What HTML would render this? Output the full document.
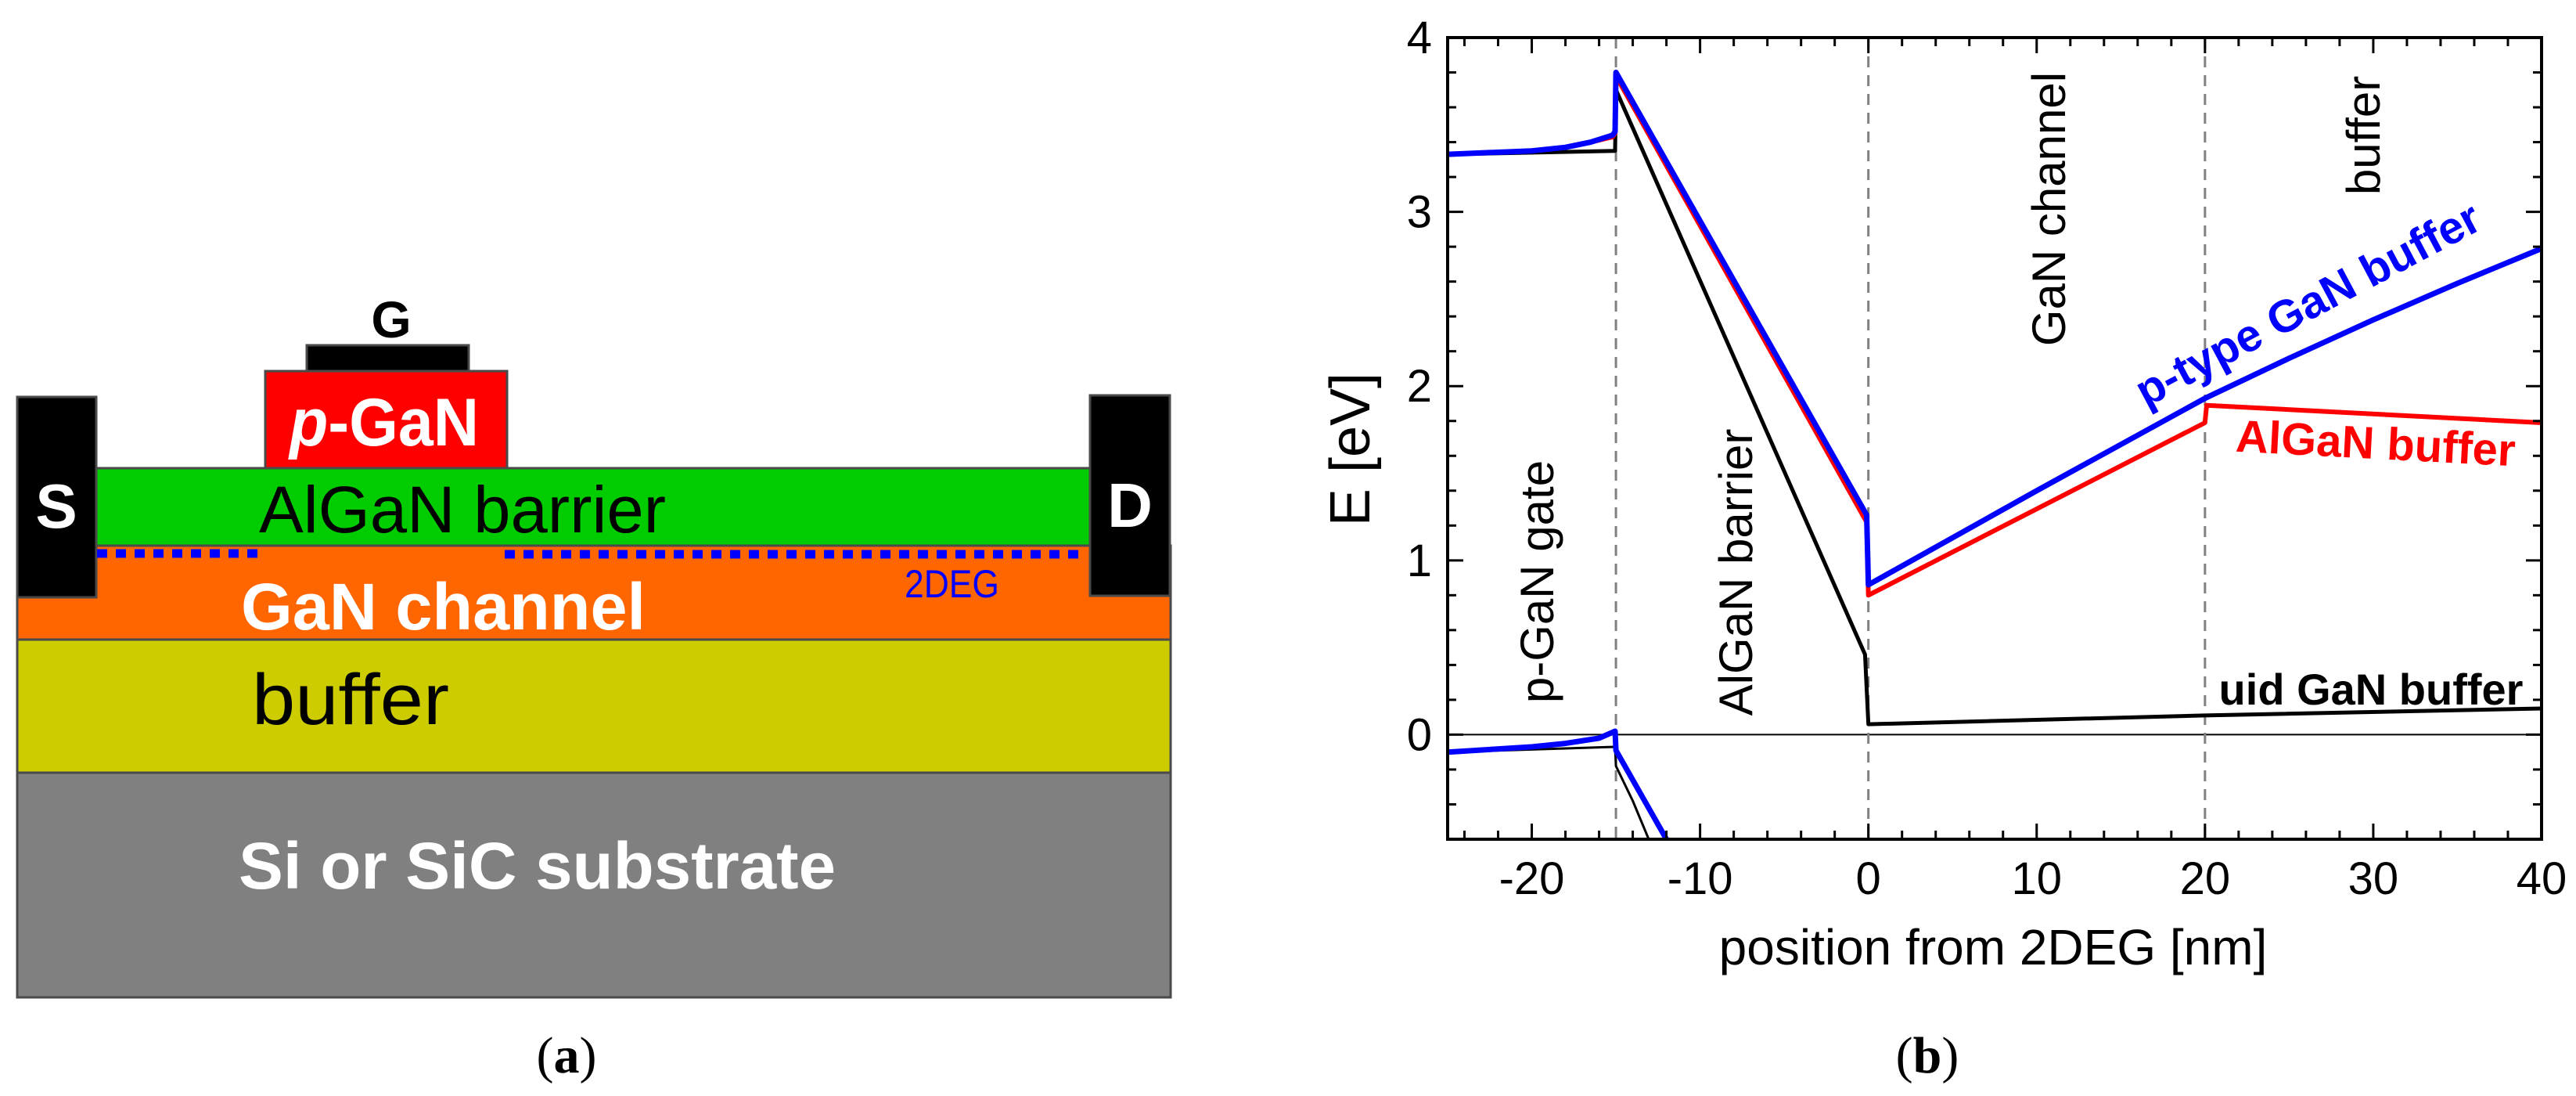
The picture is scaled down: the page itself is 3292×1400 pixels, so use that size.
<!DOCTYPE html>
<html><head><meta charset="utf-8"><style>
html,body{margin:0;padding:0;background:#fff;}
svg{display:block;}
text{font-family:"Liberation Sans",Arial,sans-serif;}
</style></head><body>
<svg id="fig" width="3292" height="1400" viewBox="0 0 3292 1400" xmlns="http://www.w3.org/2000/svg">
<g>
  <rect x="22" y="987" width="1474" height="287" fill="#808080" stroke="#4a4a4a" stroke-width="3"/>
  <rect x="22" y="817" width="1474" height="170" fill="#cccc00" stroke="#4a4a4a" stroke-width="3"/>
  <rect x="22" y="697" width="1474" height="120" fill="#ff6600" stroke="#4a4a4a" stroke-width="3"/>
  <rect x="123" y="598" width="1270" height="99" fill="#00cc00" stroke="#4a4a4a" stroke-width="3"/>
  <rect x="339" y="474" width="309" height="124" fill="#ff0000" stroke="#4a4a4a" stroke-width="3"/>
  <rect x="392" y="441" width="207" height="33" fill="#000" stroke="#4a4a4a" stroke-width="3"/>
  <rect x="22" y="507" width="101" height="256" fill="#000" stroke="#4a4a4a" stroke-width="3"/>
  <rect x="1393" y="505" width="102" height="256" fill="#000" stroke="#4a4a4a" stroke-width="3"/>
  <line x1="124" y1="707" x2="330" y2="707" stroke="#0000ff" stroke-width="11" stroke-dasharray="13 11"/>
  <line x1="645" y1="708" x2="1389" y2="708" stroke="#0000ff" stroke-width="11" stroke-dasharray="13 11"/>
  <text x="500" y="431" font-size="66" font-weight="bold" text-anchor="middle">G</text>
  <text x="72" y="674" font-size="80" font-weight="bold" fill="#fff" text-anchor="middle">S</text>
  <text x="1444" y="673" font-size="80" font-weight="bold" fill="#fff" text-anchor="middle">D</text>
  <text x="370" y="569" font-size="86" font-weight="bold" fill="#fff" textLength="242" lengthAdjust="spacingAndGlyphs"><tspan font-style="italic">p</tspan>-GaN</text>
  <text x="331" y="680" font-size="84" textLength="520" lengthAdjust="spacingAndGlyphs">AlGaN  barrier</text>
  <text x="1156" y="763" font-size="50" fill="#0000ff" textLength="121" lengthAdjust="spacingAndGlyphs">2DEG</text>
  <text x="308" y="804" font-size="84" font-weight="bold" fill="#fff" textLength="517" lengthAdjust="spacingAndGlyphs">GaN channel</text>
  <text x="322" y="925" font-size="92" textLength="252" lengthAdjust="spacingAndGlyphs">buffer</text>
  <text x="305" y="1135" font-size="84" font-weight="bold" fill="#fff" textLength="763" lengthAdjust="spacingAndGlyphs">Si or SiC substrate</text>
  <text x="724" y="1370" font-size="66" text-anchor="middle" style="font-family:'Liberation Serif',serif">(<tspan font-weight="bold">a</tspan>)</text>
</g>
<g id="chart"></g>
<text x="2463" y="1370" font-size="66" text-anchor="middle" style="font-family:'Liberation Serif',serif">(<tspan font-weight="bold">b</tspan>)</text>
</svg>
<script>
// Data arrays (x in nm, E in eV)
const blueCbX = [-25, -20, -18, -16.5, -15.2, -15.05, -15, -0.1, 0, 10, 20, 25, 30, 35, 40];
const blueCbY = [3.33, 3.35, 3.37, 3.40, 3.44, 3.46, 3.80, 1.26, 0.86, 1.40, 1.93, 2.16, 2.38, 2.59, 2.79];
const redCbX = [-25, -20, -18, -16.5, -15.2, -15.05, -15, -0.1, 0, 20, 20.1, 40];
const redCbY = [3.33, 3.35, 3.37, 3.40, 3.43, 3.45, 3.78, 1.22, 0.80, 1.79, 1.89, 1.79];
const blackCbX = [-25, -15.05, -15, -0.2, 0, 20, 40];
const blackCbY = [3.33, 3.35, 3.70, 0.46, 0.06, 0.11, 0.15];
const blueVbX = [-25, -20, -18, -16, -15.05, -15, -12];
const blueVbY = [-0.10, -0.07, -0.05, -0.02, 0.02, -0.09, -0.60];
const blackVbX = [-25, -15.05, -15, -14, -13.05];
const blackVbY = [-0.10, -0.07, -0.18, -0.38, -0.60];
const xTicks = [-20, -10, 0, 10, 20, 30, 40];
const xTickLabels = ["-20", "-10", "0", "10", "20", "30", "40"];
const yTicks = [0, 1, 2, 3, 4];
const yTickLabels = ["0", "1", "2", "3", "4"];
const regionBounds = [-15, 0, 20];

const NS = "http://www.w3.org/2000/svg";
const L = 1850, R = 3248, T = 48, B = 1072;
const xMin = -25, xMax = 40, yMin = -0.6, yMax = 4;
function X(v){ return L + (v - xMin) / (xMax - xMin) * (R - L); }
function Y(v){ return B - (v - yMin) / (yMax - yMin) * (B - T); }
const g = document.getElementById('chart');
function mk(tag, attrs){ const e = document.createElementNS(NS, tag); for (const k in attrs) e.setAttribute(k, attrs[k]); g.appendChild(e); return e; }

const defs = mk('defs', {});
const cp = document.createElementNS(NS, 'clipPath'); cp.setAttribute('id', 'pc');
const cr = document.createElementNS(NS, 'rect'); cr.setAttribute('x', L); cr.setAttribute('y', T); cr.setAttribute('width', R - L); cr.setAttribute('height', B - T);
cp.appendChild(cr); defs.appendChild(cp);

const zl = mk('line', {x1: L, x2: R, y1: Y(0), y2: Y(0), stroke: '#000', 'stroke-width': 2});



regionBounds.forEach(b => {
  const d = mk('line', {x1: X(b), x2: X(b), y1: T, y2: B, stroke: '#808080', 'stroke-width': 3, 'stroke-dasharray': '14 10'});
  
  
});

function series(xs, ys, color, w, name){
  const pts = xs.map((x, i) => X(x).toFixed(1) + ',' + Y(ys[i]).toFixed(1)).join(' ');
  const p = mk('polyline', {points: pts, fill: 'none', stroke: color, 'stroke-width': w, 'stroke-linejoin': 'round', 'clip-path': 'url(#pc)'});
  
  
}
series(blackVbX, blackVbY, '#000', 3, 'valence-band-uid');
series(blackCbX, blackCbY, '#000', 5, 'conduction-band-uid');
series(redCbX, redCbY, '#ff0000', 6, 'conduction-band-algan-buffer');
series(blueVbX, blueVbY, '#0000ff', 7, 'valence-band-p-type');
series(blueCbX, blueCbY, '#0000ff', 7, 'conduction-band-p-type');

const fr = mk('rect', {x: L, y: T, width: R - L, height: B - T, fill: 'none', stroke: '#000', 'stroke-width': 4});



for (let v = -24; v <= 40; v += 2) {
  const major = v % 10 === 0; const len = major ? 20 : 11;
  mk('line', {x1: X(v), x2: X(v), y1: B, y2: B - len, stroke: '#000', 'stroke-width': 3});
  mk('line', {x1: X(v), x2: X(v), y1: T, y2: T + len, stroke: '#000', 'stroke-width': 3});
}
for (let i = -2; i <= 20; i++) {
  const v = i * 0.2; const major = i % 5 === 0; const len = major ? 20 : 11;
  mk('line', {x1: L, x2: L + len, y1: Y(v), y2: Y(v), stroke: '#000', 'stroke-width': 3});
  mk('line', {x1: R, x2: R - len, y1: Y(v), y2: Y(v), stroke: '#000', 'stroke-width': 3});
}
xTicks.forEach((v, i) => {
  const t = mk('text', {x: X(v), y: 1142, 'font-size': 58, 'text-anchor': 'middle'});
  t.textContent = xTickLabels[i];
  
  
});
yTicks.forEach((v, i) => {
  const t = mk('text', {x: 1830, y: Y(v) + 20, 'font-size': 58, 'text-anchor': 'end'});
  t.textContent = yTickLabels[i];
  
  
});

function txt(s, x, y, size, name, extra){
  const t = mk('text', Object.assign({x: x, y: y, 'font-size': size, 'text-anchor': 'middle'}, extra || {}));
  t.textContent = s;
  
  
  return t;
}
txt('position from 2DEG [nm]', 2547, 1232, 64, 'x-axis-title');
txt('E [eV]', 1728, 596, 72, 'y-axis-title', {transform: 'rotate(-90 1728 574)'});
txt('p-GaN gate', 1963, 765, 60, 'region-label-p-gan-gate', {transform: 'rotate(-90 1963 743)'});
txt('AlGaN barrier', 2217, 753, 60, 'region-label-algan-barrier', {transform: 'rotate(-90 2217 731)'});
txt('GaN channel', 2617, 289, 60, 'region-label-gan-channel', {transform: 'rotate(-90 2617 267)'});
txt('buffer', 3019, 195, 60, 'region-label-buffer', {transform: 'rotate(-90 3019 173)'});
txt('p-type GaN buffer', 2950, 408, 58, 'label-p-type-gan-buffer', {fill: '#0000ff', 'font-weight': 'bold', transform: 'rotate(-28 2950 390)'});
txt('AlGaN buffer', 3036, 586, 58, 'label-algan-buffer', {fill: '#ff0000', 'font-weight': 'bold', transform: 'rotate(3 3036 566)'});
txt('uid GaN buffer', 3030, 900, 56, 'label-uid-gan-buffer', {fill: '#000', 'font-weight': 'bold'});
</script>
</body></html>
